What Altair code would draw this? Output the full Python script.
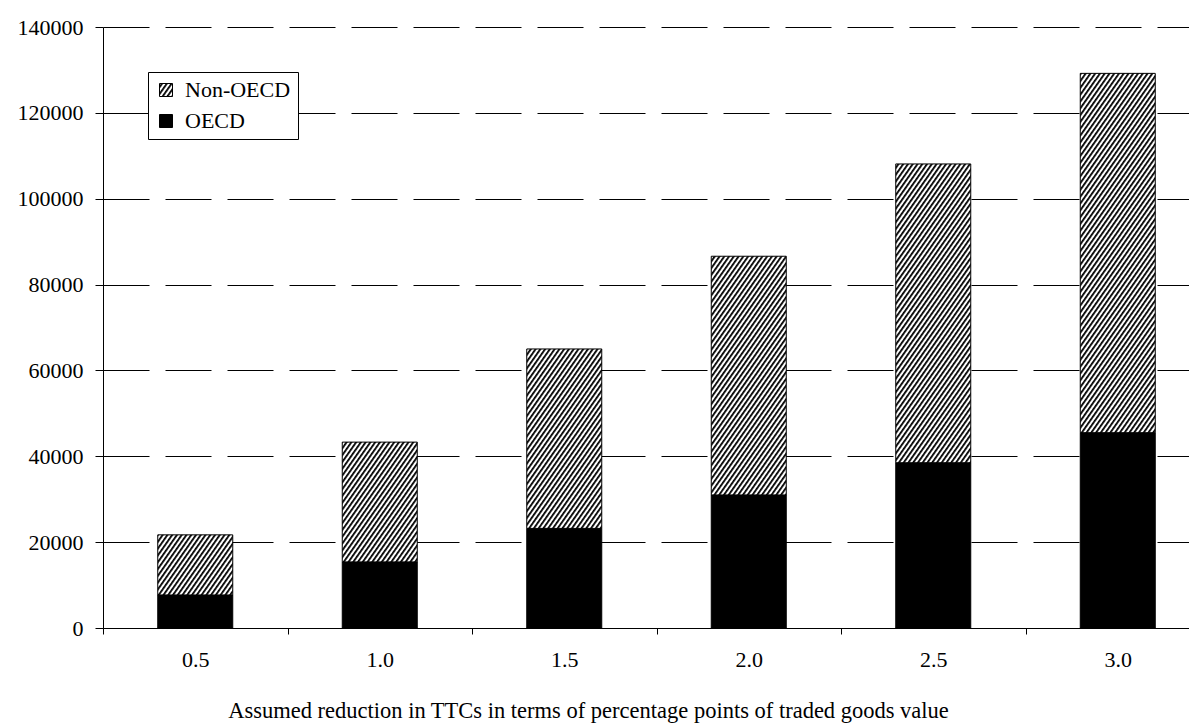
import altair as alt
import pandas as pd
import jinja2

# ---- data ----
categories = ["0.5", "1.0", "1.5", "2.0", "2.5", "3.0"]
oecd = [7700, 15400, 23200, 31000, 38500, 45500]
non_oecd = [14000, 27900, 41800, 55600, 69600, 83700]
series_names = ["Non-OECD", "OECD"]
y_ticks = [0, 20000, 40000, 60000, 80000, 100000, 120000, 140000]

rows = []
for c, o, n in zip(categories, oecd, non_oecd):
    rows.append({"cat": c, "series": "OECD", "value": o, "ord": 0})
    rows.append({"cat": c, "series": "Non-OECD", "value": n, "ord": 1})
df = pd.DataFrame(rows)

FONT = "Liberation Serif"

chart = alt.Chart(df).mark_bar(width=75, stroke="black", strokeWidth=1).encode(
    x=alt.X(
        "cat:N",
        sort=categories,
        scale=alt.Scale(paddingInner=0, paddingOuter=0),
        axis=alt.Axis(
            title="Assumed reduction in TTCs in terms of percentage points of traded goods value",
            labelAngle=0,
            tickBand="extent",
            tickSize=6,
            tickColor="black",
            domainColor="black",
            labelPadding=15,
            labelFont=FONT,
            labelFontSize=22,
            labelColor="black",
            titleFont=FONT,
            titleFontSize=22.5,
            titleFontWeight="normal",
            titleColor="black",
            titleX=485,
            titleY=89,
            titleAlign="center",
            titleBaseline="alphabetic",
            grid=False,
        ),
    ),
    y=alt.Y(
        "value:Q",
        stack="zero",
        scale=alt.Scale(domain=[0, 140000], nice=False),
        axis=alt.Axis(
            title=None,
            values=y_ticks,
            format="d",
            tickSize=8,
            tickColor="black",
            domainColor="black",
            labelPadding=12,
            labelFont=FONT,
            labelFontSize=22,
            labelColor="black",
            grid=True,
            gridColor="black",
            gridWidth=1,
            gridDash=[46, 16],
        ),
    ),
    fill=alt.Fill(
        "series:N",
        scale=alt.Scale(domain=series_names, range=["url(#hatch)", "black"]),
        legend=alt.Legend(
            title=None,
            orient="none",
            legendX=45,
            legendY=45,
            direction="vertical",
            symbolType="square",
            symbolSize=169,
            symbolStrokeColor="black",
            symbolStrokeWidth=1,
            labelFont=FONT,
            labelFontSize=22,
            labelColor="black",
            labelOffset=8,
            rowPadding=9,
            padding=7,
            strokeColor="black",
            fillColor="white",
            labelLimit=300,
        ),
    ),
    order=alt.Order("ord:Q"),
).properties(
    width=1107,
    height=601,
    padding={"left": 95, "top": 19, "right": 0, "bottom": 100},
    autosize=alt.AutoSizeParams(type="none"),
).configure(
    background="white", font=FONT
).configure_view(
    stroke=None
).configure_axis(
    labelFont=FONT, titleFont=FONT
).configure_legend(
    labelFont=FONT
)

TEMPLATE = jinja2.Template("""<!DOCTYPE html>
<html>
<head>
  <meta charset="utf-8">
  <style>body { overflow: hidden; }</style>
  <script type="text/javascript" src="{{ base_url }}/vega@{{ vega_version }}"></script>
  <script type="text/javascript" src="{{ base_url }}/vega-lite@{{ vegalite_version }}"></script>
  <script type="text/javascript" src="{{ base_url }}/vega-embed@{{ vegaembed_version }}"></script>
</head>
<body>
  <svg width="0" height="0" style="position:absolute">
    <defs>
      <pattern id="hatch" width="3.9" height="10" patternUnits="userSpaceOnUse" patternTransform="rotate(35)">
        <rect x="0" y="0" width="3.9" height="10" fill="white"></rect>
        <rect x="0" y="0" width="1.8" height="10" fill="black"></rect>
      </pattern>
    </defs>
  </svg>
  <div id="{{ output_div }}"></div>
  <script type="text/javascript">
    var spec = {{ spec }};
    var embedOpt = {{ embed_options }};
    vegaEmbed("#{{ output_div }}", spec, embedOpt).catch(console.error);
  </script>
</body>
</html>""")

chart.save("out.html", embed_options={"renderer": "svg", "actions": False}, template=TEMPLATE)
